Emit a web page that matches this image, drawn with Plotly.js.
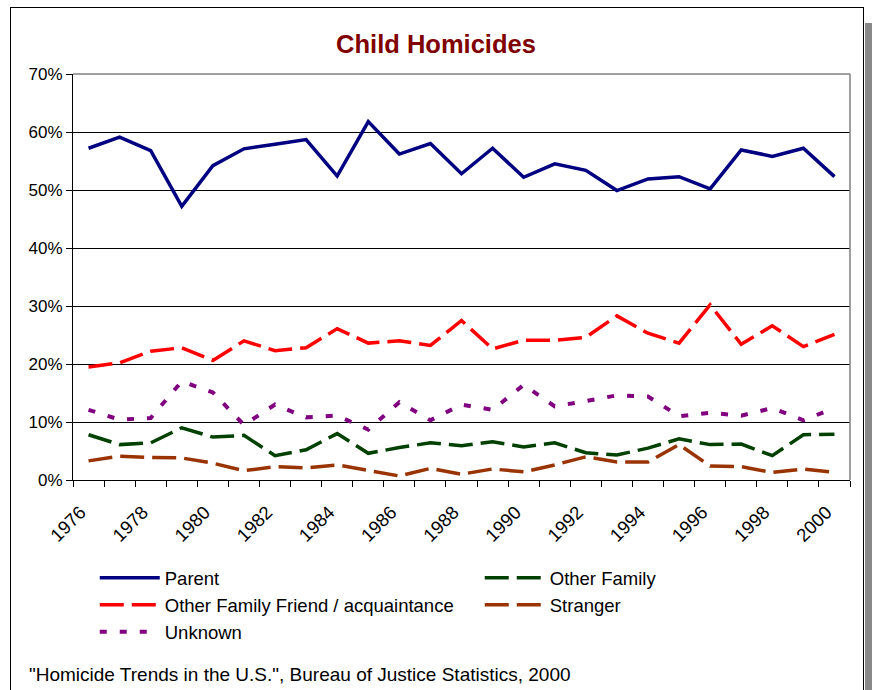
<!DOCTYPE html>
<html>
<head>
<meta charset="utf-8">
<script src="https://cdn.plot.ly/plotly-3.0.1.min.js"></script>
<style>
  html, body { margin: 0; padding: 0; background: #ffffff; width: 872px; height: 690px; overflow: hidden; }
  #frame { position: absolute; left: 10px; top: 7px; width: 852px; height: 700px; border: 1px solid #000; background: #fff; }
  #shadow { position: absolute; left: 865px; top: 23px; width: 7px; height: 690px; background: #888888; }
  #chart { position: absolute; left: 0; top: 0; width: 872px; height: 690px; }
</style>
</head>
<body>
<div id="shadow"></div>
<div id="frame"></div>
<div id="chart"></div>
<script>
const years = [1976,1977,1978,1979,1980,1981,1982,1983,1984,1985,1986,1987,1988,1989,1990,1991,1992,1993,1994,1995,1996,1997,1998,1999,2000];
const parent = [57.2,59.1,56.8,47.2,54.2,57.1,57.9,58.7,52.4,61.8,56.2,58.0,52.8,57.2,52.2,54.5,53.4,49.9,51.9,52.3,50.2,56.9,55.8,57.2,52.3];
const otherFamily = [7.8,6.1,6.4,9.0,7.4,7.7,4.2,5.2,8.0,4.6,5.6,6.4,5.9,6.6,5.7,6.4,4.7,4.3,5.5,7.1,6.1,6.2,4.2,7.8,7.9];
const friendAcq = [19.5,20.2,22.2,22.8,20.6,24.0,22.3,22.8,26.1,23.6,24.0,23.2,27.5,22.6,24.1,24.1,24.6,28.3,25.3,23.6,30.2,23.4,26.6,23.0,25.1];
const stranger = [3.3,4.1,3.9,3.8,2.9,1.6,2.3,2.1,2.6,1.6,0.7,2.0,1.0,1.9,1.4,2.6,4.0,3.1,3.1,6.1,2.4,2.3,1.3,1.9,1.3];
const unknown = [12.1,10.4,10.7,17.0,15.1,9.5,13.0,10.8,11.1,8.7,13.4,10.3,13.0,12.1,16.4,12.7,13.6,14.6,14.4,11.0,11.6,11.1,12.4,10.3,12.4];
const labelYears = [1976,1978,1980,1982,1984,1986,1988,1990,1992,1994,1996,1998,2000];
const boundaries = [1975.5,1976.5,1977.5,1978.5,1979.5,1980.5,1981.5,1982.5,1983.5,1984.5,1985.5,1986.5,1987.5,1988.5,1989.5,1990.5,1991.5,1992.5,1993.5,1994.5,1995.5,1996.5,1997.5,1998.5,1999.5,2000.5];
const yTicks = [0,10,20,30,40,50,60,70];

const FONT = 'Liberation Sans, Arial, sans-serif';
const pct = v => v / 100;

function tr(name, vals, color, dash, width) {
  return { type: 'scatter', mode: 'lines', name: name, x: years, y: vals.map(pct),
    line: { color: color, width: width, dash: dash }, hoverinfo: 'skip' };
}

const data = [
  tr('Parent', parent, '#000080', 'solid', 3.5),
  tr('Other Family', otherFamily, '#004000', '24px,8px', 3.5),
  tr('Other Family Friend / acquaintance', friendAcq, '#FF0000', '24px,8px', 3.5),
  tr('Stranger', stranger, '#993300', '24px,8px', 3.5),
  tr('Unknown', unknown, '#800080', '7px,13px', 4)
];

const layout = {
  width: 872, height: 690,
  margin: { l: 73, r: 22, t: 74, b: 210, pad: 0, autoexpand: false },
  paper_bgcolor: 'rgba(0,0,0,0)',
  plot_bgcolor: '#ffffff',
  font: { family: FONT, color: '#000000', size: 17 },
  title: { text: 'Child Homicides', x: 0.5, xanchor: 'center', y: 1 - 44/690, yanchor: 'middle',
           font: { family: FONT, size: 25.5, color: '#800000', weight: 'bold' } },
  showlegend: true,
  legend: { orientation: 'h', x: 0.028, xanchor: 'left', y: -0.195, yanchor: 'top',
            entrywidth: 310, entrywidthmode: 'pixels', itemwidth: 60,
            font: { family: FONT, size: 18.5, color: '#000000' }, bgcolor: 'rgba(0,0,0,0)', traceorder: 'normal' },
  xaxis: { range: [1975.5, 2000.5], tickmode: 'array', tickvals: boundaries, showticklabels: false,
           ticks: 'outside', ticklen: 6, tickcolor: '#000', tickwidth: 1, automargin: false,
           showgrid: false, zeroline: false, showline: true, linecolor: '#000', linewidth: 1, fixedrange: true },
  xaxis2: { overlaying: 'x', anchor: 'y', side: 'bottom', range: [1975.5, 2000.5], tickmode: 'array',
            tickvals: labelYears, ticktext: labelYears.map(String), tickangle: -45, ticks: '', ticklen: 0,
            ticklabelstandoff: 17, ticklabelshift: -8, automargin: false,
            showgrid: false, zeroline: false, showline: false, tickfont: { family: FONT, size: 18.5, color: '#000' } },
  yaxis: { range: [0, 0.7], tickmode: 'array', tickvals: yTicks.map(pct), ticktext: yTicks.map(v => v + '%'),
           ticks: 'outside', ticklen: 6, tickcolor: '#000', showgrid: true, gridcolor: '#000', gridwidth: 1,
           zeroline: false, showline: true, linecolor: '#000', linewidth: 1, automargin: false,
           tickfont: { family: FONT, size: 17, color: '#000' }, fixedrange: true },
  shapes: [
    { type: 'line', xref: 'paper', yref: 'paper', x0: 0, x1: 1, y0: 1, y1: 1, line: { color: '#808080', width: 1.5 }, layer: 'above' },
    { type: 'line', xref: 'paper', yref: 'paper', x0: 1, x1: 1, y0: 0, y1: 1, line: { color: '#808080', width: 1.5 }, layer: 'above' }
  ],
  annotations: [
    { text: '"Homicide Trends in the U.S.", Bureau of Justice Statistics, 2000', xref: 'paper', yref: 'paper',
      x: (27 - 73) / 777, xanchor: 'left', y: (480 - 674) / 406, yanchor: 'middle', showarrow: false,
      font: { family: FONT, size: 19, color: '#000' } }
  ]
};

data.push({ type: 'scatter', mode: 'none', x: [1976, 2000], y: [0, 0], xaxis: 'x2', yaxis: 'y', showlegend: false, hoverinfo: 'skip' });

Plotly.newPlot('chart', data, layout, { staticPlot: true, displayModeBar: false });
</script>
</body>
</html>
